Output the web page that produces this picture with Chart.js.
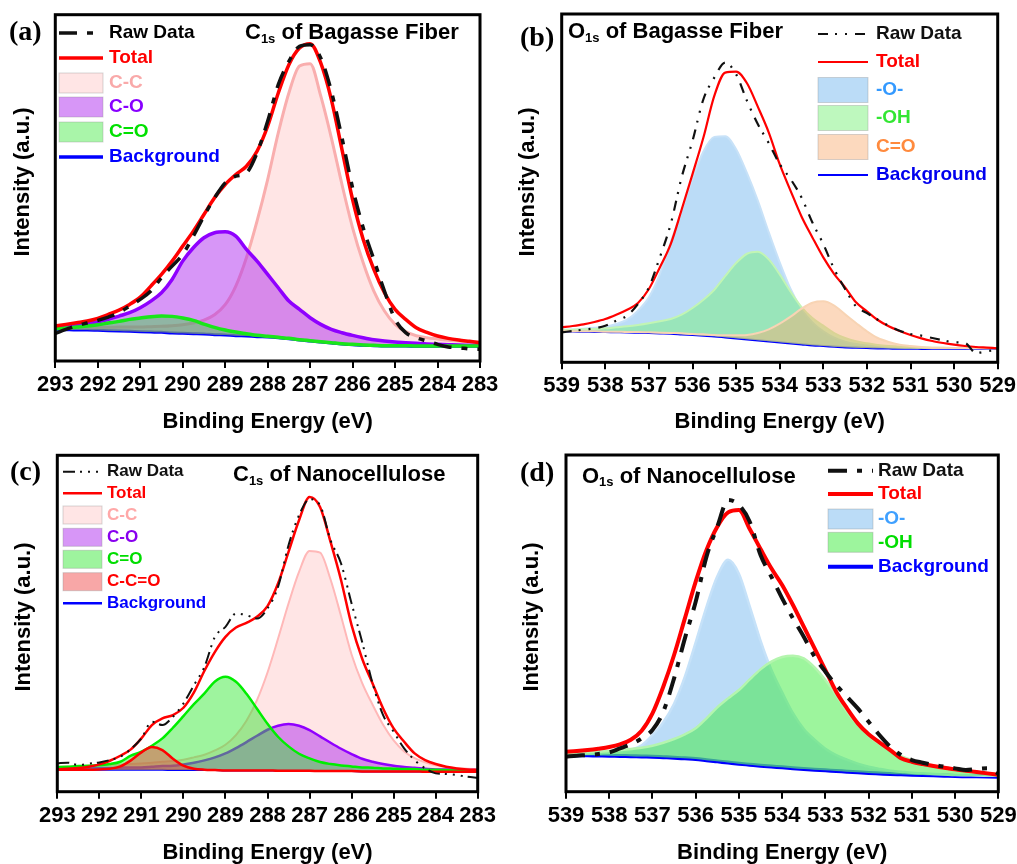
<!DOCTYPE html>
<html>
<head>
<meta charset="utf-8">
<script src="https://cdn.jsdelivr.net/npm/chart.js@4.4.1/dist/chart.umd.min.js"></script>
<style>
html, body { margin: 0; padding: 0; background: #fff; }
#wrap { position: relative; width: 1017px; height: 864px; overflow: hidden; background: #fff; }
#wrap canvas { position: absolute; }
</style>
</head>
<body>
<div id="wrap">
  <canvas id="pa" width="500" height="440" style="left:0;top:0"></canvas>
  <canvas id="pb" width="517" height="440" style="left:500px;top:0"></canvas>
  <canvas id="pc" width="500" height="424" style="left:0;top:440px"></canvas>
  <canvas id="pd" width="517" height="424" style="left:500px;top:440px"></canvas>
</div>
<script>
// binding energy grids (eV)
const bindingC = [293, 292.75, 292.5, 292.25, 292, 291.75, 291.5, 291.25, 291, 290.75, 290.5, 290.25, 290, 289.75, 289.5, 289.25, 289, 288.75, 288.5, 288.25, 288, 287.75, 287.5, 287.25, 287, 286.75, 286.5, 286.25, 286, 285.75, 285.5, 285.25, 285, 284.75, 284.5, 284.25, 284, 283.75, 283.5, 283.25, 283];
const bindingO = [539, 538.75, 538.5, 538.25, 538, 537.75, 537.5, 537.25, 537, 536.75, 536.5, 536.25, 536, 535.75, 535.5, 535.25, 535, 534.75, 534.5, 534.25, 534, 533.75, 533.5, 533.25, 533, 532.75, 532.5, 532.25, 532, 531.75, 531.5, 531.25, 531, 530.75, 530.5, 530.25, 530, 529.75, 529.5, 529.25, 529];
const ticksC = [293, 292, 291, 290, 289, 288, 287, 286, 285, 284, 283];
const ticksO = [539, 538, 537, 536, 535, 534, 533, 532, 531, 530, 529];

// (a) C1s of bagasse fiber
const rawA = [8.3, 9.5, 10.6, 11.4, 12.2, 13.2, 14.5, 16.5, 18.5, 21.0, 25.0, 28.5, 32.0, 37.5, 43.5, 49.0, 53.5, 55.5, 56.5, 62.5, 72.0, 83.0, 90.0, 94.5, 95.0, 91.0, 81.0, 67.0, 52.0, 40.0, 30.5, 21.0, 12.5, 8.5, 7.0, 6.0, 5.0, 4.2, 4.0, 3.6, 3.5];
const totalA = [10.5, 11.0, 11.5, 12.0, 12.8, 14.0, 15.3, 17.0, 19.2, 22.5, 26.0, 30.0, 34.5, 39.0, 44.0, 49.0, 53.0, 56.0, 58.5, 63.0, 70.5, 80.5, 89.0, 94.0, 95.3, 89.5, 78.5, 63.5, 48.5, 36.5, 27.5, 20.5, 15.5, 12.5, 10.0, 8.6, 7.5, 6.8, 6.3, 5.9, 5.5];
const ccA = [10.2, 10.1, 10.1, 10.2, 10.1, 10.1, 10.2, 10.2, 10.2, 10.3, 10.4, 10.6, 10.9, 11.4, 12.3, 13.9, 16.9, 22.5, 31.0, 42.0, 54.5, 68.5, 80.5, 88.6, 89.3, 79.6, 67.0, 53.0, 40.0, 29.5, 21.0, 15.0, 11.0, 8.8, 7.6, 7.0, 6.6, 6.2, 6.0, 5.8, 5.7];
const coA = [10.2, 10.5, 10.9, 11.3, 11.8, 12.5, 13.5, 14.5, 16.0, 18.0, 20.5, 24.5, 30.0, 34.0, 37.0, 38.5, 38.8, 37.5, 33.5, 30.0, 26.0, 22.0, 18.0, 15.5, 13.0, 11.0, 9.5, 8.5, 7.7, 7.0, 6.4, 6.0, 5.7, 5.5, 5.3, 5.1, 5.0, 4.9, 4.8, 4.75, 4.7];
const cdoA = [9.7, 9.9, 10.2, 10.5, 10.9, 11.4, 11.9, 12.5, 12.9, 13.3, 13.5, 13.4, 12.9, 12.2, 11.1, 10.1, 9.3, 8.7, 8.2, 7.7, 7.4, 7.1, 6.8, 6.4, 6.1, 5.8, 5.5, 5.2, 5.0, 4.8, 4.7, 4.6, 4.6, 4.6, 4.5, 4.5, 4.5, 4.5, 4.5, 4.5, 4.5];
const bgA = [9.5, 9.4, 9.3, 9.3, 9.2, 9.1, 9.0, 8.9, 8.8, 8.7, 8.6, 8.4, 8.3, 8.2, 8.1, 7.9, 7.8, 7.6, 7.5, 7.3, 7.2, 7.0, 6.7, 6.3, 6.0, 5.7, 5.4, 5.1, 4.9, 4.7, 4.6, 4.5, 4.5, 4.5, 4.4, 4.4, 4.4, 4.4, 4.4, 4.4, 4.4];

// (b) O1s of bagasse fiber
const rawB = [9.0, 9.4, 9.8, 10.2, 11.0, 12.5, 14.0, 17.5, 22.5, 31.5, 41.5, 55.5, 66.5, 79.0, 85.5, 90.0, 86.5, 78.5, 71.5, 65.8, 59.5, 55.0, 49.5, 42.0, 35.5, 28.0, 22.0, 16.8, 14.8, 12.8, 11.0, 9.5, 8.5, 8.0, 7.3, 6.6, 6.0, 5.8, 2.8, 3.3, 3.8];
const totalB = [10.5, 10.9, 11.4, 12.1, 13.0, 14.3, 15.8, 17.8, 22.0, 28.5, 35.5, 45.8, 56.5, 67.5, 80.0, 87.0, 87.3, 83.8, 76.7, 69.0, 59.5, 51.5, 43.8, 37.5, 31.5, 26.5, 22.5, 18.0, 15.3, 12.7, 10.8, 9.4, 8.2, 7.2, 6.4, 5.8, 5.3, 4.9, 4.6, 4.4, 4.2];
const etherB = [9.8, 9.85, 10.05, 10.35, 10.7, 11.5, 12.8, 15.5, 19.5, 26.5, 36.0, 45.5, 55.0, 63.3, 67.7, 67.9, 64.0, 56.8, 48.5, 39.0, 30.0, 22.0, 16.0, 12.0, 9.3, 7.4, 6.2, 5.5, 5.1, 4.8, 4.6, 4.5, 4.45, 4.35, 4.25, 4.2, 4.2, 4.2, 4.2, 4.2, 4.2];
const hydroxylB = [9.7, 9.8, 9.9, 10.0, 10.2, 10.5, 10.8, 11.2, 11.7, 12.3, 13.0, 14.3, 16.3, 18.8, 21.8, 25.9, 29.8, 32.6, 33.2, 30.9, 26.4, 21.2, 16.6, 13.3, 11.0, 8.8, 7.3, 6.3, 5.7, 5.2, 4.9, 4.7, 4.6, 4.5, 4.4, 4.35, 4.3, 4.3, 4.3, 4.25, 4.25];
const carbonylB = [9.4, 9.3, 9.3, 9.3, 9.2, 9.2, 9.1, 9.1, 9.0, 8.9, 8.8, 8.7, 8.5, 8.4, 8.2, 8.1, 8.1, 8.2, 8.8, 9.9, 11.6, 13.7, 16.1, 17.9, 18.3, 17.0, 14.4, 11.8, 9.3, 7.3, 6.1, 5.3, 4.9, 4.6, 4.4, 4.4, 4.3, 4.3, 4.2, 4.2, 4.2];
const bgB = [9.3, 9.25, 9.2, 9.15, 9.1, 9.05, 9.0, 8.9, 8.8, 8.7, 8.6, 8.4, 8.2, 8.0, 7.8, 7.5, 7.2, 6.9, 6.6, 6.3, 6.0, 5.7, 5.4, 5.1, 4.9, 4.7, 4.5, 4.4, 4.3, 4.2, 4.15, 4.1, 4.1, 4.05, 4.0, 4.0, 4.0, 4.0, 4.0, 4.0, 4.0];

// (c) C1s of nanocellulose
const rawC = [8.5, 8.7, 8.0, 8.4, 8.8, 9.5, 10.5, 12.8, 16.0, 21.0, 20.0, 22.5, 26.5, 32.0, 37.5, 46.5, 49.5, 53.5, 53.0, 52.0, 55.0, 61.5, 74.0, 83.0, 87.8, 86.0, 75.5, 68.5, 56.5, 45.0, 32.5, 23.0, 18.0, 13.0, 9.5, 7.0, 5.5, 5.3, 5.0, 4.5, 4.2];
const totalC = [6.7, 6.9, 7.1, 7.5, 8.2, 9.3, 10.8, 12.7, 16.0, 20.0, 22.0, 23.0, 25.2, 29.8, 36.3, 42.0, 46.5, 49.3, 50.7, 52.5, 55.7, 62.5, 72.0, 81.5, 88.5, 85.5, 75.0, 63.5, 50.0, 40.0, 32.5, 25.0, 19.0, 15.0, 11.5, 9.5, 8.3, 7.5, 7.0, 6.7, 6.5];
const ccC = [7.5, 7.6, 7.7, 7.8, 7.9, 8.0, 8.1, 8.3, 8.5, 8.7, 9.0, 9.2, 9.6, 10.3, 11.1, 12.4, 14.1, 17.0, 21.3, 27.5, 35.8, 45.9, 56.5, 66.0, 72.3, 71.8, 63.7, 52.7, 41.2, 32.7, 26.1, 20.1, 15.4, 12.1, 10.1, 8.8, 7.9, 7.4, 7.1, 6.9, 6.8];
const coC = [6.9, 7.0, 7.0, 7.0, 7.1, 7.1, 7.2, 7.3, 7.3, 7.5, 7.7, 7.8, 8.2, 8.7, 9.4, 10.3, 11.5, 13.1, 14.9, 16.8, 18.6, 19.8, 20.3, 19.8, 18.5, 16.6, 14.7, 12.9, 11.3, 9.9, 9.0, 8.3, 7.8, 7.4, 7.2, 6.9, 6.7, 6.7, 6.6, 6.5, 6.5];
const cdoC = [7.4, 7.5, 7.7, 7.8, 8.0, 8.3, 9.0, 10.8, 12.0, 13.8, 16.0, 19.2, 22.7, 26.3, 29.5, 33.1, 34.5, 33.0, 29.4, 24.9, 20.4, 16.5, 13.6, 11.4, 10.0, 8.9, 8.3, 7.9, 7.6, 7.3, 7.2, 7.0, 6.9, 6.8, 6.8, 6.6, 6.6, 6.5, 6.4, 6.4, 6.4];
const ccdoC = [6.6, 6.6, 6.6, 6.6, 6.7, 6.9, 7.6, 9.4, 11.8, 13.4, 12.5, 9.9, 7.8, 6.9, 6.6, 6.5, 6.4, 6.4, 6.4, 6.4, 6.4, 6.3, 6.3, 6.3, 6.3, 6.2, 6.2, 6.2, 6.2, 6.1, 6.1, 6.1, 6.1, 6.1, 6.1, 6.0, 6.0, 6.0, 6.0, 6.0, 6.0];
const bgC = [6.6, 6.6, 6.6, 6.6, 6.6, 6.6, 6.6, 6.6, 6.6, 6.6, 6.6, 6.5, 6.5, 6.5, 6.5, 6.5, 6.4, 6.4, 6.4, 6.4, 6.4, 6.3, 6.3, 6.3, 6.3, 6.2, 6.2, 6.2, 6.2, 6.1, 6.1, 6.1, 6.1, 6.1, 6.1, 6.0, 6.0, 6.0, 6.0, 6.0, 6.0];

// (d) O1s of nanocellulose
const rawD = [10.5, 10.8, 11.0, 11.3, 11.8, 13.0, 14.2, 16.0, 18.5, 24.0, 34.0, 46.0, 57.0, 70.5, 79.5, 87.5, 86.0, 81.0, 71.0, 64.5, 58.0, 52.0, 46.5, 40.5, 36.0, 32.0, 28.5, 25.0, 21.0, 17.0, 13.5, 11.0, 9.5, 8.7, 8.0, 7.5, 7.0, 6.5, 6.8, 7.0, 5.5];
const totalD = [12.0, 12.2, 12.5, 12.9, 13.4, 14.2, 15.6, 18.3, 23.5, 31.5, 41.0, 52.0, 63.0, 72.5, 79.5, 83.8, 84.5, 78.8, 72.8, 67.0, 62.0, 56.0, 49.5, 43.0, 36.5, 30.0, 25.0, 20.5, 17.2, 14.8, 12.5, 10.0, 9.0, 8.3, 7.7, 7.2, 6.7, 6.3, 5.9, 5.5, 5.1];
const etherD = [11.3, 11.35, 11.4, 11.45, 11.6, 11.8, 12.55, 13.95, 17.0, 20.85, 26.4, 34.5, 44.8, 55.45, 64.6, 69.55, 65.4, 55.6, 45.3, 36.55, 29.8, 23.55, 18.8, 15.6, 12.9, 11.0, 9.6, 8.4, 7.5, 6.85, 6.3, 6.0, 5.7, 5.5, 5.3, 5.15, 5.0, 4.95, 4.85, 4.8, 4.75];
const hydroxylD = [11.5, 11.6, 11.8, 12.0, 12.2, 12.5, 12.8, 13.2, 13.8, 14.7, 15.8, 17.2, 19.0, 22.0, 25.3, 28.0, 30.5, 33.7, 36.7, 39.0, 40.4, 40.8, 40.0, 37.3, 33.5, 29.0, 24.0, 20.0, 16.8, 14.3, 12.3, 10.7, 9.5, 8.5, 7.7, 7.1, 6.6, 6.1, 5.8, 5.5, 5.2];
const bgD = [11.0, 10.95, 10.9, 10.85, 10.8, 10.7, 10.65, 10.55, 10.5, 10.35, 10.2, 10.0, 9.8, 9.45, 9.1, 8.75, 8.4, 8.1, 7.8, 7.55, 7.3, 7.05, 6.8, 6.6, 6.4, 6.2, 6.0, 5.8, 5.6, 5.45, 5.3, 5.2, 5.1, 5.0, 4.9, 4.8, 4.7, 4.65, 4.6, 4.55, 4.5];

const SANS = '"Liberation Sans", Arial, Helvetica, sans-serif';
const SERIF = '"Liberation Serif", "Times New Roman", serif';

const PINK = 'rgba(255,160,160,0.27)';
const PURPLE = 'rgba(175,45,240,0.5)';
const BLUEF = 'rgba(120,185,240,0.5)';

function pts(xs, ys) {
  return xs.map((x, i) => ({ x: x, y: ys[i] }));
}

function decor(d) {
  return {
    id: 'decor',
    afterDraw(chart) {
      const ctx = chart.ctx;
      const a = chart.chartArea;
      ctx.save();
      ctx.setLineDash([]);
      ctx.lineWidth = 3;
      ctx.strokeStyle = '#000';
      ctx.strokeRect(a.left, a.top, a.right - a.left, a.bottom - a.top);

      ctx.textBaseline = 'middle';
      ctx.textAlign = 'left';
      ctx.fillStyle = '#000';
      ctx.font = 'bold 28px ' + SERIF;
      ctx.fillText(d.letter, d.letterX, d.letterY);

      // y title
      ctx.save();
      ctx.translate(d.yTitleX, d.yTitleY);
      ctx.rotate(-Math.PI / 2);
      ctx.textAlign = 'center';
      ctx.font = 'bold 22px ' + SANS;
      ctx.fillText('Intensity (a.u.)', 0, 0);
      ctx.restore();

      // panel title with subscript
      let x = d.titleX;
      ctx.font = 'bold 22px ' + SANS;
      ctx.fillText(d.element, x, d.titleY);
      x += ctx.measureText(d.element).width;
      ctx.font = 'bold 13px ' + SANS;
      ctx.fillText('1s', x, d.titleY + 6);
      x += ctx.measureText('1s').width;
      ctx.font = 'bold 22px ' + SANS;
      ctx.fillText(' of ' + d.sample, x, d.titleY);

      // legend
      const L = d.legend;
      L.items.forEach((it, i) => {
        const y = L.rows[i];
        if (it.box) {
          ctx.fillStyle = it.box;
          ctx.fillRect(L.x1, y - L.boxH / 2, L.x2 - L.x1, L.boxH);
          ctx.strokeStyle = 'rgba(140,140,140,0.35)';
          ctx.lineWidth = 1;
          ctx.setLineDash([]);
          ctx.strokeRect(L.x1, y - L.boxH / 2, L.x2 - L.x1, L.boxH);
        } else {
          ctx.strokeStyle = it.line;
          ctx.lineWidth = it.w;
          ctx.setLineDash(it.dash || []);
          ctx.beginPath();
          ctx.moveTo(L.x1, y);
          ctx.lineTo(L.x2, y);
          ctx.stroke();
          ctx.setLineDash([]);
        }
        ctx.fillStyle = it.color;
        ctx.font = 'bold ' + L.size + 'px ' + SANS;
        ctx.fillText(it.text, L.tx, y);
      });
      ctx.restore();
    }
  };
}

function makePanel(id, p) {
  const datasets = p.series.map(s => ({
    label: s.label,
    data: pts(p.energy, s.values),
    borderColor: s.line,
    borderWidth: s.w,
    borderDash: s.dash || [],
    backgroundColor: s.fill || 'rgba(0,0,0,0)',
    fill: s.fill ? 0 : false,
    order: s.order,
    pointRadius: 0,
    cubicInterpolationMode: 'monotone'
  }));
  const b = p.box;
  return new Chart(document.getElementById(id), {
    type: 'line',
    data: { datasets: datasets },
    options: {
      responsive: false,
      animation: false,
      events: [],
      layout: { padding: { left: 0, top: b.top, right: b.right, bottom: 0 } },
      plugins: { legend: { display: false }, tooltip: { enabled: false } },
      scales: {
        x: {
          type: 'linear',
          min: p.ticks[p.ticks.length - 1],
          max: p.ticks[0],
          reverse: true,
          afterBuildTicks: s => { s.ticks = p.ticks.map(v => ({ value: v })); },
          afterFit: s => { s.height = b.xH; s.paddingLeft = 0; s.paddingRight = 0; },
          ticks: {
            autoSkip: false, maxRotation: 0, padding: b.tickPad, color: '#000',
            font: { family: SANS, size: 22, weight: 'bold' },
            callback: v => String(v)
          },
          grid: { display: true, drawOnChartArea: false, drawTicks: true, tickLength: 7, lineWidth: 2, color: '#000' },
          border: { display: false },
          title: {
            display: true, text: 'Binding Energy (eV)', color: '#000',
            font: { family: SANS, size: 22, weight: 'bold', lineHeight: 1 },
            padding: { top: 0, bottom: b.xTitlePad }
          }
        },
        y: {
          min: 0,
          max: p.ymax,
          afterFit: s => { s.width = b.yW; },
          ticks: { display: false },
          grid: { display: false },
          border: { display: false },
          title: { display: false }
        }
      }
    },
    plugins: [decor(p.decor)]
  });
}

makePanel('pa', {
  energy: bindingC, ticks: ticksC, ymax: 104,
  box: { yW: 55.3, top: 14.7, right: 20, xH: 79, tickPad: 4, xTitlePad: 7 },
  series: [
    { label: 'Background', values: bgA, line: '#0000ff', w: 3, order: 9 },
    { label: 'C-C', values: ccA, line: '#f9aeae', w: 3, fill: PINK, order: 8 },
    { label: 'C-O', values: coA, line: '#8f00ff', w: 3.5, fill: PURPLE, order: 7 },
    { label: 'C=O', values: cdoA, line: '#19e619', w: 3.5, fill: 'rgba(40,230,40,0.4)', order: 6 },
    { label: 'Total', values: totalA, line: '#ff0000', w: 3.5, order: 2 },
    { label: 'Raw Data', values: rawA, line: '#111111', w: 3.5, dash: [18, 10, 6, 10], order: 1 }
  ],
  decor: {
    letter: '(a)', letterX: 9, letterY: 33,
    yTitleX: 23, yTitleY: 182,
    element: 'C', sample: 'Bagasse Fiber', titleX: 245, titleY: 33,
    legend: {
      x1: 59, x2: 103, tx: 109, size: 19, boxH: 20,
      rows: [33, 58, 83, 107, 132, 157],
      items: [
        { text: 'Raw Data', color: '#000', line: '#111', w: 3.5, dash: [18, 10, 6, 10] },
        { text: 'Total', color: '#ff0000', line: '#ff0000', w: 3.5 },
        { text: 'C-C', color: '#f9a9a9', box: PINK },
        { text: 'C-O', color: '#8800ff', box: PURPLE },
        { text: 'C=O', color: '#00e000', box: 'rgba(40,230,40,0.4)' },
        { text: 'Background', color: '#0000ff', line: '#0000ff', w: 3.5 }
      ]
    }
  }
});

makePanel('pb', {
  energy: bindingO, ticks: ticksO, ymax: 104.6,
  box: { yW: 61.7, top: 14, right: 19.3, xH: 77.7, tickPad: 3, xTitlePad: 7 },
  series: [
    { label: 'Background', values: bgB, line: '#0000ff', w: 2.2, order: 9 },
    { label: '-O-', values: etherB, line: '#c8e2f8', w: 2, fill: BLUEF, order: 8 },
    { label: '-OH', values: hydroxylB, line: '#c2f5b4', w: 2, fill: 'rgba(110,240,110,0.45)', order: 7 },
    { label: 'C=O', values: carbonylB, line: '#f8d4b4', w: 2, fill: 'rgba(248,170,110,0.45)', order: 6 },
    { label: 'Total', values: totalB, line: '#ff0000', w: 2.2, order: 2 },
    { label: 'Raw Data', values: rawB, line: '#111111', w: 2.2, dash: [10, 7, 2, 8, 2, 8], order: 1 }
  ],
  decor: {
    letter: '(b)', letterX: 20, letterY: 39,
    yTitleX: 27.5, yTitleY: 182,
    element: 'O', sample: 'Bagasse Fiber', titleX: 68, titleY: 32,
    legend: {
      x1: 318, x2: 368, tx: 376, size: 19, boxH: 25,
      rows: [34, 62, 90, 118, 147, 175],
      items: [
        { text: 'Raw Data', color: '#111', line: '#111', w: 2.2, dash: [10, 7, 2, 8, 2, 8] },
        { text: 'Total', color: '#ff0000', line: '#ff0000', w: 2.2 },
        { text: '-O-', color: '#3399ff', box: BLUEF },
        { text: '-OH', color: '#33e633', box: 'rgba(110,240,110,0.45)' },
        { text: 'C=O', color: '#ff8a3d', box: 'rgba(248,170,110,0.45)' },
        { text: 'Background', color: '#0000ee', line: '#0000ff', w: 2.2 }
      ]
    }
  }
});

makePanel('pc', {
  energy: bindingC, ticks: ticksC, ymax: 101,
  box: { yW: 57.3, top: 15.3, right: 22.3, xH: 72.3, tickPad: 4, xTitlePad: 0.5 },
  series: [
    { label: 'Background', values: bgC, line: '#0000ff', w: 2, order: 9 },
    { label: 'C-C', values: ccC, line: '#ffb8b8', w: 2, fill: PINK, order: 8 },
    { label: 'C-O', values: coC, line: '#9000ff', w: 2.5, fill: PURPLE, order: 7 },
    { label: 'C=O', values: cdoC, line: '#00ee00', w: 2.5, fill: 'rgba(40,230,40,0.45)', order: 6 },
    { label: 'C-C=O', values: ccdoC, line: '#ff0000', w: 2.5, fill: 'rgba(240,60,60,0.45)', order: 5 },
    { label: 'Total', values: totalC, line: '#ff0000', w: 2.5, order: 2 },
    { label: 'Raw Data', values: rawC, line: '#111111', w: 2, dash: [12, 5, 2, 6, 2, 6, 2, 5], order: 1 }
  ],
  decor: {
    letter: '(c)', letterX: 10, letterY: 33,
    yTitleX: 24, yTitleY: 177,
    element: 'C', sample: 'Nanocellulose', titleX: 233, titleY: 35,
    legend: {
      x1: 63, x2: 102, tx: 107, size: 17, boxH: 18,
      rows: [31.7, 53.3, 75, 97.3, 119.3, 141.7, 163.3],
      items: [
        { text: 'Raw Data', color: '#111', line: '#111', w: 2, dash: [12, 5, 2, 6, 2, 6, 2, 5] },
        { text: 'Total', color: '#ff0000', line: '#ff0000', w: 2.5 },
        { text: 'C-C', color: '#ffa8a8', box: PINK },
        { text: 'C-O', color: '#8800ee', box: PURPLE },
        { text: 'C=O', color: '#00dd00', box: 'rgba(40,230,40,0.45)' },
        { text: 'C-C=O', color: '#ff0000', box: 'rgba(240,60,60,0.45)' },
        { text: 'Background', color: '#0000ff', line: '#0000ff', w: 2.5 }
      ]
    }
  }
});

makePanel('pd', {
  energy: bindingO, ticks: ticksO, ymax: 101,
  box: { yW: 66, top: 15, right: 18.7, xH: 72.3, tickPad: 4, xTitlePad: 0.5 },
  series: [
    { label: 'Background', values: bgD, line: '#0000ff', w: 4, order: 9 },
    { label: '-O-', values: etherD, line: '#c6e2f9', w: 2.5, fill: BLUEF, order: 8 },
    { label: '-OH', values: hydroxylD, line: '#b4f5ae', w: 2.5, fill: 'rgba(60,235,60,0.5)', order: 7 },
    { label: 'Total', values: totalD, line: '#ff0000', w: 4, order: 2 },
    { label: 'Raw Data', values: rawD, line: '#111111', w: 4, dash: [19, 10, 5, 10], order: 1 }
  ],
  decor: {
    letter: '(d)', letterX: 20, letterY: 34,
    yTitleX: 32, yTitleY: 177,
    element: 'O', sample: 'Nanocellulose', titleX: 82, titleY: 36.7,
    legend: {
      x1: 328, x2: 373, tx: 378, size: 19, boxH: 20,
      rows: [30.7, 54, 79, 102.3, 126.7],
      items: [
        { text: 'Raw Data', color: '#111', line: '#111', w: 4, dash: [19, 10, 5, 10] },
        { text: 'Total', color: '#ff0000', line: '#ff0000', w: 4 },
        { text: '-O-', color: '#3fa0ff', box: BLUEF },
        { text: '-OH', color: '#00dd00', box: 'rgba(60,235,60,0.5)' },
        { text: 'Background', color: '#0000ff', line: '#0000ff', w: 4 }
      ]
    }
  }
});
</script>
</body>
</html>
